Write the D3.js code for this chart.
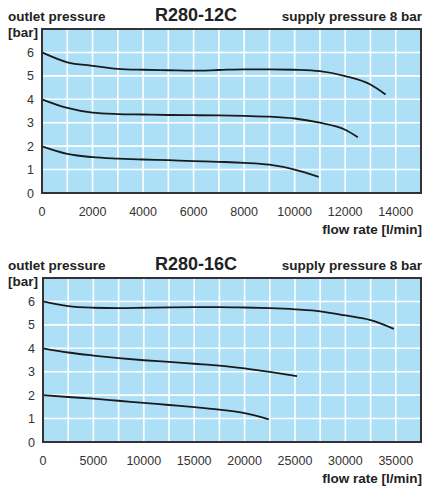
<!DOCTYPE html>
<html>
<head>
<meta charset="utf-8">
<script src="https://cdn.jsdelivr.net/npm/d3@7"></script>
<style>
  body { margin: 0; background: #fff; }
  svg { display: block; font-family: "Liberation Sans", Arial, sans-serif; }
</style>
</head>
<body>
<div id="chart"></div>
<script>
// R280-12C, flow in l/min, outlet pressure in bar
var flow12 = [0, 1000, 2000, 3000, 4000, 5000, 6000, 7000, 8000, 9000, 10000, 11000, 12000, 13000, 13600];
var p12_6 = [6.0, 5.58, 5.43, 5.3, 5.26, 5.24, 5.22, 5.25, 5.28, 5.28, 5.26, 5.2, 4.99, 4.63, 4.2];
var flow12_4 = [0, 1000, 2000, 3000, 4000, 5000, 6000, 7000, 8000, 9000, 10000, 11000, 12000, 12500];
var p12_4 = [4.0, 3.63, 3.43, 3.37, 3.35, 3.33, 3.32, 3.31, 3.29, 3.26, 3.18, 3.0, 2.7, 2.38];
var flow12_2 = [0, 1000, 2000, 3000, 4000, 5000, 6000, 7000, 8000, 9000, 10000, 10950];
var p12_2 = [1.99, 1.67, 1.53, 1.47, 1.43, 1.4, 1.36, 1.33, 1.29, 1.21, 1.0, 0.69];

// R280-16C
var flow16_6 = [0, 2500, 5000, 7500, 10000, 12500, 15000, 17500, 20000, 22500, 25000, 27500, 30000, 32500, 34800];
var p16_6 = [6.0, 5.8, 5.73, 5.71, 5.73, 5.75, 5.76, 5.76, 5.74, 5.71, 5.66, 5.58, 5.4, 5.2, 4.83];
var flow16_4 = [0, 2500, 5000, 7500, 10000, 12500, 15000, 17500, 20000, 22500, 25200];
var p16_4 = [4.0, 3.82, 3.69, 3.58, 3.49, 3.42, 3.34, 3.26, 3.14, 2.99, 2.81];
var flow16_2 = [0, 2500, 5000, 7500, 10000, 12500, 15000, 17500, 20000, 22400];
var p16_2 = [2.0, 1.92, 1.85, 1.76, 1.67, 1.58, 1.49, 1.38, 1.23, 0.97];

var yTicks = [0, 1, 2, 3, 4, 5, 6];
var xTicks12 = [0, 2000, 4000, 6000, 8000, 10000, 12000, 14000];
var xTicks16 = [0, 5000, 10000, 15000, 20000, 25000, 30000, 35000];

var charts = [
  { title: "R280-12C", top: 29, left: 42, xMax: 15000, xStep: 1000, xTicks: xTicks12,
    series: [[flow12, p12_6], [flow12_4, p12_4], [flow12_2, p12_2]] },
  { title: "R280-16C", top: 278, left: 43, xMax: 37500, xStep: 2500, xTicks: xTicks16,
    series: [[flow16_6, p16_6], [flow16_4, p16_4], [flow16_2, p16_2]] }
];

var width = 426, height = 486;
var right = 421, plotH = 164;

var svg = d3.select("#chart")
  .append("svg")
  .attr("width", width)
  .attr("height", height);

charts.forEach(function(c) {
  var g = svg.append("g");
  var bottom = c.top + plotH;

  var xScale = d3.scaleLinear().domain([0, c.xMax]).range([c.left, right]);
  var yScale = d3.scaleLinear().domain([0, 7]).range([bottom, c.top]);

  // plot background
  g.append("rect")
    .attr("x", c.left).attr("y", c.top)
    .attr("width", right - c.left).attr("height", plotH)
    .attr("fill", "#ade0f7");

  // grid
  var xGrid = d3.range(c.xStep, c.xMax, c.xStep);
  g.selectAll(".vgrid")
    .data(xGrid).enter().append("line")
    .attr("x1", d => xScale(d)).attr("x2", d => xScale(d))
    .attr("y1", c.top).attr("y2", bottom)
    .attr("stroke", "#fff").attr("stroke-width", 1.6);
  g.selectAll(".hgrid")
    .data(d3.range(1, 7)).enter().append("line")
    .attr("x1", c.left).attr("x2", right)
    .attr("y1", d => yScale(d)).attr("y2", d => yScale(d))
    .attr("stroke", "#fff").attr("stroke-width", 1.6);

  // curves
  var line = d3.line()
    .x(d => xScale(d[0]))
    .y(d => yScale(d[1]))
    .curve(d3.curveMonotoneX);

  c.series.forEach(function(s) {
    var pts = s[0].map((f, i) => [f, s[1][i]]);
    g.append("path")
      .attr("d", line(pts))
      .attr("fill", "none")
      .attr("stroke", "#1a1a1a")
      .attr("stroke-width", 1.8);
  });

  // frame
  g.append("rect")
    .attr("x", c.left).attr("y", c.top)
    .attr("width", right - c.left).attr("height", plotH)
    .attr("fill", "none")
    .attr("stroke", "#333").attr("stroke-width", 2);

  // Y tick labels
  g.selectAll(".ylab")
    .data(yTicks).enter().append("text")
    .text(d => d)
    .attr("x", c.left - 8)
    .attr("y", d => yScale(d) + 4.5)
    .attr("text-anchor", "end")
    .attr("font-size", "12.5px")
    .attr("fill", "#333");

  // X tick labels
  g.selectAll(".xlab")
    .data(c.xTicks).enter().append("text")
    .text(d => d)
    .attr("x", d => xScale(d))
    .attr("y", bottom + 23)
    .attr("text-anchor", "middle")
    .attr("font-size", "12.5px")
    .attr("fill", "#333");

  // headings
  g.append("text")
    .text("outlet pressure")
    .attr("x", 8).attr("y", c.top - 8)
    .attr("font-size", "13.5px").attr("font-weight", "bold").attr("fill", "#222");
  g.append("text")
    .text("[bar]")
    .attr("x", 8).attr("y", c.top + 8)
    .attr("font-size", "13.5px").attr("font-weight", "bold").attr("fill", "#222");
  g.append("text")
    .text(c.title)
    .attr("x", 196).attr("y", c.top - 8)
    .attr("text-anchor", "middle")
    .attr("font-size", "18px").attr("font-weight", "bold").attr("fill", "#222");
  g.append("text")
    .text("supply pressure 8 bar")
    .attr("x", right + 1).attr("y", c.top - 8)
    .attr("text-anchor", "end")
    .attr("font-size", "13.5px").attr("font-weight", "bold").attr("fill", "#222");
  g.append("text")
    .text("flow rate [l/min]")
    .attr("x", right + 1).attr("y", bottom + 41)
    .attr("text-anchor", "end")
    .attr("font-size", "13.5px").attr("font-weight", "bold").attr("fill", "#222");
});
</script>
</body>
</html>
